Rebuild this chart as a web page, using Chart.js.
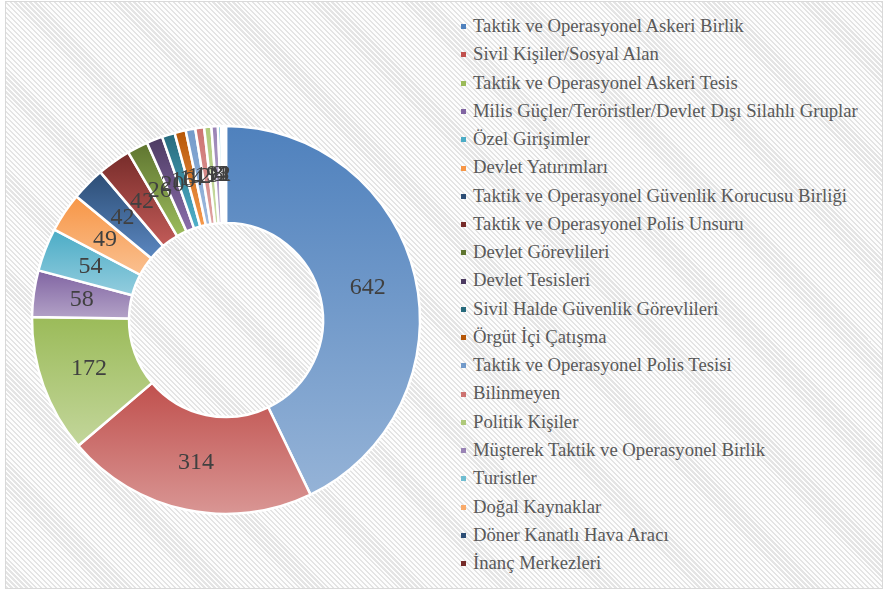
<!DOCTYPE html>
<html lang="tr">
  <head>
    <meta charset="UTF-8" />
    <title>Hedef Türleri</title>
    <script src="https://cdn.jsdelivr.net/npm/chart.js"></script>
    <style>
      body {
        margin: 0;
        background: #ffffff;
      }
      #frame {
        position: absolute;
        left: 5px;
        top: 1px;
        width: 876px;
        height: 586px;
        border: 1px solid #d9d9d9;
        background: repeating-linear-gradient(
          45deg,
          #e4e4e4 0px,
          #e4e4e4 1.6px,
          #fdfdfd 1.6px,
          #fdfdfd 3.5px
        );
      }
      #chart {
        position: absolute;
        left: -6px;
        top: -2px;
      }
      #legend {
        position: absolute;
        left: 455px;
        top: 10px;
        margin: 0;
        padding: 0;
        list-style: none;
        font-family: "Liberation Serif", "Times New Roman", serif;
        font-size: 18.7px;
        color: #595959;
      }
      #legend li {
        height: 28.28px;
        line-height: 28.28px;
        white-space: nowrap;
      }
      #legend span {
        display: inline-block;
        width: 5px;
        height: 5px;
        margin-right: 7px;
        vertical-align: middle;
        position: relative;
        top: -1px;
      }
    </style>
  </head>
  <body>
    <div id="frame">
      <canvas id="chart" width="452" height="592"></canvas>
      <ul id="legend"></ul>
    </div>

    <script>
      const categories = [
        "Taktik ve Operasyonel Askeri Birlik",
        "Sivil Kişiler/Sosyal Alan",
        "Taktik ve Operasyonel Askeri Tesis",
        "Milis Güçler/Teröristler/Devlet Dışı Silahlı Gruplar",
        "Özel Girişimler",
        "Devlet Yatırımları",
        "Taktik ve Operasyonel Güvenlik Korucusu Birliği",
        "Taktik ve Operasyonel Polis Unsuru",
        "Devlet Görevlileri",
        "Devlet Tesisleri",
        "Sivil Halde Güvenlik Görevlileri",
        "Örgüt İçi Çatışma",
        "Taktik ve Operasyonel Polis Tesisi",
        "Bilinmeyen",
        "Politik Kişiler",
        "Müşterek Taktik ve Operasyonel Birlik",
        "Turistler",
        "Doğal Kaynaklar",
        "Döner Kanatlı Hava Aracı",
        "İnanç Merkezleri",
      ];
      const counts = [642, 314, 172, 58, 54, 49, 42, 42, 26, 20, 16, 14, 12, 11, 9, 8, 4, 3, 2, 1];

      // top and bottom colour of each slice's vertical gradient
      const topColors = [
        "#4f81bd", "#c0504d", "#9bbb59", "#8064a2", "#4bacc6", "#f79646",
        "#2c4d75", "#772c2a", "#5f7530", "#4d3b62", "#276a7c", "#b65708",
        "#729aca", "#cd7371", "#afc97a", "#9983b5", "#6fbdd1", "#f9ab6b",
        "#2c4d75", "#772c2a",
      ];
      const bottomColors = [
        "#95b3d7", "#d99694", "#c3d69b", "#b3a2c7", "#93cdde", "#fac090",
        "#5b87c0", "#c25b58", "#9cbc5c", "#8a6dab", "#4fb1cb", "#f89a4c",
        "#9fbade", "#e0a3a2", "#cbdca8", "#bcaed0", "#a4d6e3", "#fbcca6",
        "#5b87c0", "#c25b58",
      ];

      const RADIUS = 194;
      const CUTOUT = 0.5;

      function sliceGradient(ctx) {
        const i = ctx.dataIndex;
        const chart = ctx.chart;
        const area = chart.chartArea;
        if (!area) return topColors[i];
        const cx = (area.left + area.right) / 2;
        const cy = (area.top + area.bottom) / 2;
        const total = counts.reduce((a, b) => a + b, 0);
        const before = counts.slice(0, i).reduce((a, b) => a + b, 0);
        const a0 = -Math.PI / 2 + (2 * Math.PI * before) / total;
        const a1 = a0 + (2 * Math.PI * counts[i]) / total;
        let minY = Infinity;
        let maxY = -Infinity;
        for (let k = 0; k <= 32; k++) {
          const a = a0 + ((a1 - a0) * k) / 32;
          [RADIUS, RADIUS * CUTOUT].forEach((r) => {
            const y = cy + r * Math.sin(a);
            minY = Math.min(minY, y);
            maxY = Math.max(maxY, y);
          });
        }
        if (maxY - minY < 1) maxY = minY + 1;
        const g = chart.ctx.createLinearGradient(0, minY, 0, maxY);
        g.addColorStop(0, topColors[i]);
        g.addColorStop(1, bottomColors[i]);
        return g;
      }

      // value labels in the middle of each slice
      const valueLabels = {
        id: "valueLabels",
        afterDatasetsDraw(chart) {
          const ctx = chart.ctx;
          ctx.save();
          ctx.font = '24px "Liberation Serif", "Times New Roman", serif';
          ctx.fillStyle = "#404040";
          ctx.textAlign = "center";
          ctx.textBaseline = "middle";
          chart.getDatasetMeta(0).data.forEach((arc, i) => {
            const p = arc.tooltipPosition();
            ctx.fillText(counts[i], p.x, p.y);
          });
          ctx.restore();
        },
      };

      new Chart(document.getElementById("chart"), {
        type: "doughnut",
        data: {
          labels: categories,
          datasets: [
            {
              data: counts,
              backgroundColor: sliceGradient,
              borderColor: "#ffffff",
              borderWidth: 2.5,
              hoverOffset: 0,
            },
          ],
        },
        options: {
          responsive: false,
          animation: false,
          radius: RADIUS,
          cutout: CUTOUT * 100 + "%",
          layout: { padding: { top: 126, bottom: 78, left: 0, right: 0 } },
          plugins: {
            legend: { display: false },
            tooltip: { enabled: false },
          },
        },
        plugins: [valueLabels],
      });

      const legend = document.getElementById("legend");
      categories.forEach((name, i) => {
        const li = document.createElement("li");
        const box = document.createElement("span");
        box.style.background = topColors[i];
        li.appendChild(box);
        li.appendChild(document.createTextNode(name));
        legend.appendChild(li);
      });
    </script>
  </body>
</html>
